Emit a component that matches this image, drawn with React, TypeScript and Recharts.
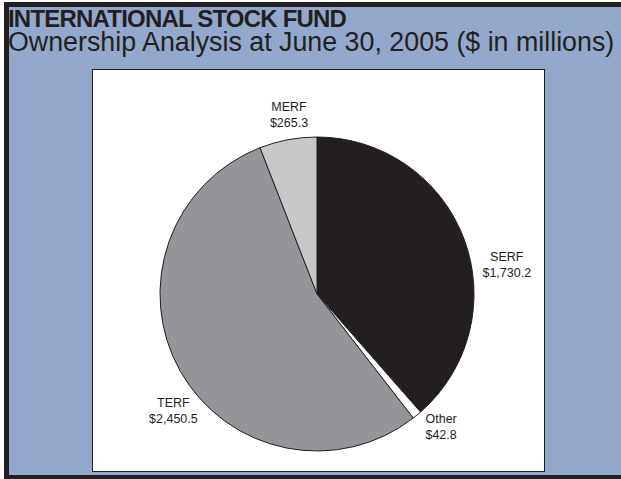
import React from "react";
import { PieChart, Pie, Cell } from "recharts";

const names = ["SERF", "Other", "TERF", "MERF"];
const values = [1730.2, 42.8, 2450.5, 265.3];
const valueLabels = ["$1,730.2", "$42.8", "$2,450.5", "$265.3"];
const colors = ["#231f20", "#ffffff", "#939598", "#c7c8ca"];

// label placement: polar angle (deg) and radius relative to pie centre
const labelAngle: Record<string, number> = { SERF: 8.7, Other: -47, TERF: -140.9, MERF: 98.9 };
const labelRadius: Record<string, number> = { SERF: 192, Other: 182, TERF: 185, MERF: 181 };

const data = names.map((n, i) => ({ name: n, value: values[i], vlabel: valueLabels[i] }));

const RAD = Math.PI / 180;

const renderLabel = (props: any) => {
  const { cx, cy, name, payload } = props;
  const a = labelAngle[name];
  const r = labelRadius[name];
  const x = cx + r * Math.cos(a * RAD);
  const y = cy - r * Math.sin(a * RAD);
  const v = payload?.vlabel ?? props.vlabel;
  return (
    <text x={x} y={y} textAnchor="middle" fill="#231f20" fontSize={12.5} fontFamily="Liberation Sans, Arial, sans-serif">
      <tspan x={x} y={y - 4}>{name}</tspan>
      <tspan x={x} y={y + 12}>{v}</tspan>
    </text>
  );
};

export default function App() {
  return (
    <div style={{ position: "absolute", left: 0, top: 0, width: 621, height: 479, background: "#ffffff", overflow: "hidden" }}>
      <div
        style={{
          position: "absolute",
          left: 4,
          top: 2,
          width: 640,
          height: 477,
          boxSizing: "border-box",
          borderLeft: "5px solid #231f20",
          borderTop: "5px solid #231f20",
          borderBottom: "4px solid #231f20",
          background: "#93a8ca",
        }}
      />
      <div
        style={{
          position: "absolute",
          left: 8,
          top: 8.5,
          fontFamily: "Liberation Sans, Arial, sans-serif",
          fontWeight: "bold",
          fontSize: 24,
          letterSpacing: -0.8,
          color: "#231f20",
          whiteSpace: "nowrap",
          lineHeight: "20px",
        }}
      >
        INTERNATIONAL STOCK FUND
      </div>
      <div
        style={{
          position: "absolute",
          left: 8,
          top: 30.5,
          fontFamily: "Liberation Sans, Arial, sans-serif",
          fontSize: 26.8,
          color: "#231f20",
          whiteSpace: "nowrap",
          lineHeight: "22px",
        }}
      >
        Ownership Analysis at June 30, 2005 ($ in millions)
      </div>
      <div
        style={{
          position: "absolute",
          left: 92,
          top: 69,
          width: 453,
          height: 403,
          boxSizing: "border-box",
          border: "1.5px solid #231f20",
          background: "#ffffff",
        }}
      />
      <div style={{ position: "absolute", left: 0, top: 0 }}>
        <PieChart width={621} height={479}>
          <Pie
            data={data}
            dataKey="value"
            nameKey="name"
            cx={312}
            cy={289}
            outerRadius={157}
            startAngle={90}
            endAngle={-270}
            stroke="#231f20"
            strokeWidth={1}
            label={renderLabel}
            labelLine={false}
            isAnimationActive={false}
          >
            {data.map((d, i) => (
              <Cell key={d.name} fill={colors[i]} />
            ))}
          </Pie>
        </PieChart>
      </div>
    </div>
  );
}
